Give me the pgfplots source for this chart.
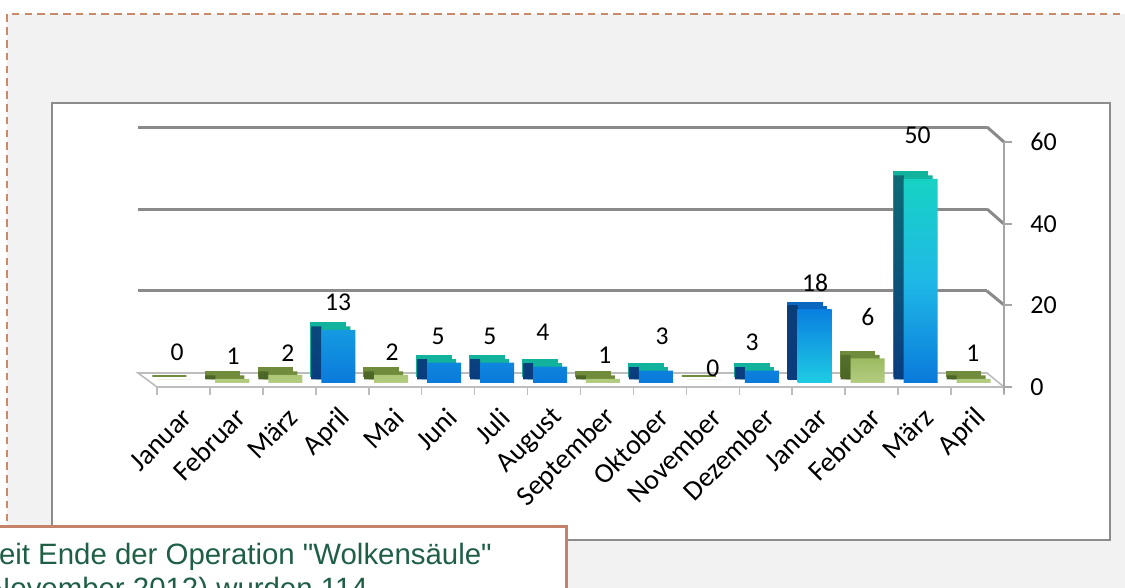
\documentclass[border=0pt]{standalone}
\usepackage{pgfplots}
\pgfplotsset{compat=1.18}
\usepackage{pgfplotstable}
\usepackage{fontspec}
\setmainfont{Carlito}
\newfontfamily\arialf{Liberation Sans}
\definecolor{bgGrey}{HTML}{F2F2F2}
\definecolor{dashC}{HTML}{C98A6C}
\definecolor{boxC}{HTML}{8C8C8C}
\definecolor{gridC}{HTML}{8A8A8A}
\definecolor{floorC}{HTML}{BDBDBD}
\definecolor{axisC}{HTML}{A6A6A6}
\definecolor{tbC}{HTML}{C4826A}
\definecolor{txtG}{HTML}{1F5F46}
\definecolor{gTop}{HTML}{6F8B3B}
\definecolor{gSideT}{HTML}{55702C}
\definecolor{gSideB}{HTML}{4A6426}
\definecolor{gFrontT}{HTML}{9BBB62}
\definecolor{gFrontB}{HTML}{B4CD82}
\definecolor{bTop}{HTML}{11B39C}
\definecolor{bSideT}{HTML}{0D6B74}
\definecolor{bSideB}{HTML}{0A3C7E}
\definecolor{bFrontT}{HTML}{17D2C4}
\definecolor{bFrontM}{HTML}{1FB8E6}
\definecolor{bFrontB}{HTML}{0A7ADB}
\definecolor{jTop}{HTML}{0A66BE}
\definecolor{jSideT}{HTML}{0A3D78}
\definecolor{jSideB}{HTML}{0A3C7E}
\definecolor{jFrontT}{HTML}{0A7FE0}
\definecolor{jFrontB}{HTML}{1ECCE2}

\pgfplotstableread{
x y
0 0
1 1
2 2
4 2
8 1
10 0
13 6
15 1
}\greenall
\pgfplotstableread{
x y
1 1
2 2
4 2
8 1
13 6
15 1
}\greennz
\pgfplotstableread{
x y
3 13
5 5
6 5
7 4
9 3
11 3
14 50
}\bluebars
\pgfplotstableread{
x y
12 18
}\janbar
\pgfplotstableread{
x y lab
-0.12 8.6 0
0.94 7.6 1
1.97 8.3 2
2.92 20.8 13
3.94 8.6 2
4.81 12.3 5
5.79 12.3 5
6.79 13.5 4
7.96 7.8 1
9.04 12.3 3
10.00 4.7 0
10.74 11.0 3
11.93 25.5 18
12.93 17.1 6
13.87 61.7 50
14.91 8.3 1
}\labels

\pgfplotsset{
  backbar/.style={ybar, bar width=17pt, bar shift=-7pt, yshift=5.5pt, fill=#1, draw=#1, line width=0.8pt},
  midbar/.style={ybar, bar width=17pt, bar shift=-4.5pt, yshift=3.75pt, fill=#1, draw=none},
  sidebar/.style={ybar, bar width=5pt, bar shift=-13pt, yshift=3.75pt, draw=none},
  frontbar/.style={ybar, bar width=17pt, bar shift=-2pt, yshift=2pt, draw=none},
}

\begin{document}
\begin{tikzpicture}
\path[use as bounding box] (0,0) rectangle (562.5pt,294pt);
\clip (0,0) rectangle (562.5pt,294pt);
% background
\fill[bgGrey] (3.5pt,-5pt) rectangle (570pt,287pt);
\draw[dashC, line width=1.1pt, dash pattern=on 3.8pt off 2.6pt] (3.5pt,-5pt) -- (3.5pt,287pt) -- (570pt,287pt);
\draw[boxC, line width=1pt, fill=white] (26pt,24pt) rectangle (555pt,242.5pt);

% back wall gridlines
\begin{axis}[at={(69pt,107.5pt)}, anchor=south west, scale only axis,
  width=424.5pt, height=123pt, xmin=0, xmax=1, ymin=0, ymax=60,
  axis line style={draw=none}, tick style={draw=none},
  xtick=\empty, ytick={20,40,60}, yticklabels={},
  ymajorgrids, grid style={gridC, line width=1.5pt}]
\addplot[draw=none] coordinates {(0,0)};
\end{axis}
% floor and connectors
\draw[floorC, line width=0.8pt, fill=white] (69pt,107.5pt) -- (493.5pt,107.5pt) -- (502pt,100.5pt) -- (78.5pt,100.5pt) -- cycle;
\draw[gridC, line width=1.5pt] (493.5pt,230.5pt) -- (502pt,223pt);
\draw[gridC, line width=1.5pt] (493.5pt,189.5pt) -- (502pt,182pt);
\draw[gridC, line width=1.5pt] (493.5pt,148.5pt) -- (502pt,141.5pt);

\begin{axis}[
  at={(78.5pt,100.5pt)}, anchor=south west,
  scale only axis, width=423.5pt, height=122.5pt,
  xmin=-0.5, xmax=15.5, ymin=0, ymax=60,
  clip=false,
  axis x line*=bottom, axis y line*=right,
  x axis line style={draw=floorC, line width=1.2pt, -},
  y axis line style={draw=axisC, line width=1.2pt, -, shorten <=-3pt},
  tick align=outside, major tick length=4pt, minor tick length=4pt,
  xtick={0.08,1.08,...,15.08},
  xticklabels={Januar,Februar,März,April,Mai,Juni,Juli,August,September,Oktober,November,Dezember,Januar,Februar,März,April},
  major x tick style={draw=none},
  minor xtick={-0.5,0.5,...,15.5},
  minor x tick style={draw=floorC, line width=0.8pt},
  ytick={0,20,40,60},
  ytick style={draw=axisC, line width=1pt},
  xticklabel style={rotate=45, anchor=east, inner sep=0pt, font=\fontsize{14}{14}\selectfont},
  xticklabel shift=9pt,
  yticklabel shift=9pt,
  yticklabel style={anchor=west, inner sep=0pt, font=\fontsize{13}{13}\selectfont},
  /pgf/number format/assume math mode=true,
]
% green bars
\addplot[backbar=gTop] table[x=x,y=y] {\greenall};
\addplot[midbar=gTop] table[x=x,y=y] {\greenall};
\addplot[sidebar, top color=gSideT, bottom color=gSideB] table[x=x,y=y] {\greennz};
\addplot[frontbar, top color=gFrontT, bottom color=gFrontB] table[x=x,y=y] {\greennz};
% blue bars
\addplot[backbar=bTop] table[x=x,y=y] {\bluebars};
\addplot[midbar=bTop] table[x=x,y=y] {\bluebars};
\addplot[sidebar, top color=bSideT, bottom color=bSideB] table[x=x,y=y] {\bluebars};
\addplot[frontbar, top color=bFrontT, bottom color=bFrontB, middle color=bFrontM] table[x=x,y=y] {\bluebars};
% Januar (2nd year)
\addplot[backbar=jTop] table[x=x,y=y] {\janbar};
\addplot[midbar=jTop] table[x=x,y=y] {\janbar};
\addplot[sidebar, top color=jSideT, bottom color=jSideB] table[x=x,y=y] {\janbar};
\addplot[frontbar, top color=jFrontT, bottom color=jFrontB] table[x=x,y=y] {\janbar};
% value labels
\addplot[draw=none, mark=none, nodes near coords, point meta=explicit symbolic,
  every node near coord/.style={anchor=center, inner sep=0pt, font=\fontsize{12.8}{13}\selectfont}]
  table[x=x,y=y,meta=lab] {\labels};
\end{axis}

% text box
\draw[tbC, line width=1.5pt, fill=white] (-10pt,-30pt) rectangle (283pt,30.5pt);
\node[anchor=base west, inner sep=0pt, text=txtG, font=\arialf\fontsize{14.7}{18}\selectfont] at (-10.5pt,11.5pt) {Seit Ende der Operation "Wolkensäule"};
\node[anchor=base west, inner sep=0pt, text=txtG, font=\arialf\fontsize{14.7}{18}\selectfont] at (-10.5pt,-5.5pt) {(November 2012) wurden 114};
\end{tikzpicture}
\end{document}
